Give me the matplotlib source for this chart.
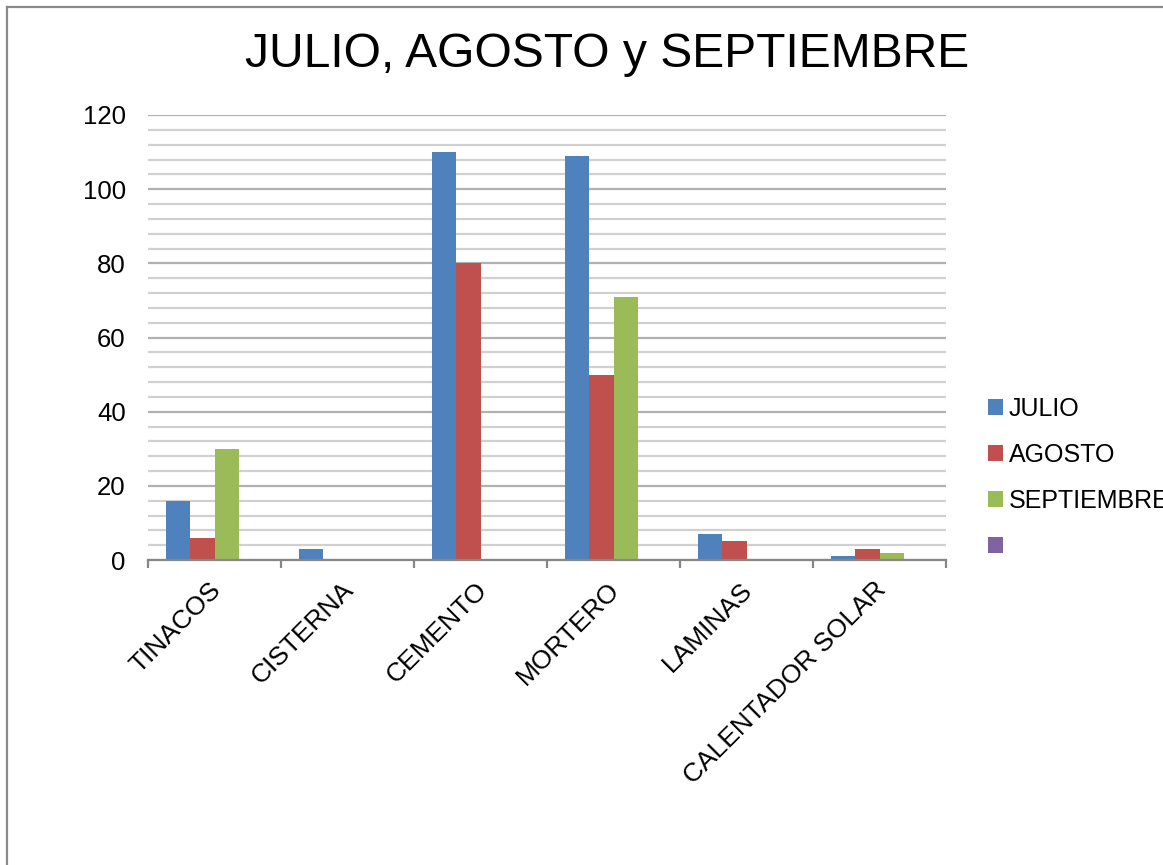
import numpy as np
import matplotlib.pyplot as plt
import matplotlib.transforms as mtransforms
from matplotlib.lines import Line2D
from matplotlib.patches import Patch

plt.rcParams['font.family'] = ['Liberation Sans', 'DejaVu Sans']

categories = ['TINACOS', 'CISTERNA', 'CEMENTO', 'MORTERO', 'LAMINAS', 'CALENTADOR SOLAR']
series_names = ['JULIO', 'AGOSTO', 'SEPTIEMBRE', '']
julio = [16, 3, 110, 109, 7, 1]
agosto = [6, 0, 80, 50, 5, 3]
septiembre = [30, 0, 0, 71, 0, 2]
cuarta = [0, 0, 0, 0, 0, 0]
colors = ['#4F81BD', '#C0504D', '#9BBB59', '#8064A2']


def draw():
    fig = plt.figure(figsize=(11.63, 8.65), dpi=100)
    ax = fig.add_axes([148 / 1163, 1 - 560 / 865, 798 / 1163, 445 / 865])

    x = np.arange(len(categories))
    w = 1 / 5.5  # 4 series, gap width 150%
    all_series = [julio, agosto, septiembre, cuarta]
    for i, (vals, c) in enumerate(zip(all_series, colors)):
        ax.bar(x + (i - 1.5) * w, vals, width=w, color=c, zorder=3)

    ax.set_xlim(-0.5, len(categories) - 0.5)
    ax.set_ylim(0, 120)
    ax.set_yticks(np.arange(0, 121, 20))
    ax.set_yticks(np.arange(0, 121, 4), minor=True)
    ax.yaxis.grid(True, which='minor', color='#d0d0d0', linewidth=1.6, zorder=0)
    ax.yaxis.grid(True, which='major', color='#b0b0b0', linewidth=1.6, zorder=0)
    ax.tick_params(axis='y', which='both', length=0, pad=16, labelsize=18.5)

    ax.set_xticks(x)
    ax.set_xticklabels(categories, rotation=45, ha='right', rotation_mode='anchor', fontsize=19)
    ax.set_xticks(np.arange(-0.5, len(categories)), minor=True)
    ax.tick_params(axis='x', which='major', length=0, pad=14)
    ax.tick_params(axis='x', which='minor', length=6, width=1.6, color='#868686', direction='out')
    shift = mtransforms.ScaledTranslation(-6 / 100, 2 / 100, fig.dpi_scale_trans)
    for lbl in ax.get_xticklabels():
        lbl.set_transform(lbl.get_transform() + shift)

    for s in ['left', 'right', 'top']:
        ax.spines[s].set_visible(False)
    ax.spines['bottom'].set_color('#868686')
    ax.spines['bottom'].set_linewidth(1.6)
    ax.spines['bottom'].set_zorder(4)

    fig.text(0.522, 0.937, 'JULIO, AGOSTO y SEPTIEMBRE', fontsize=34.6, ha='center', va='center')

    handles = [Patch(facecolor=c) for c in colors]
    fig.legend(handles, series_names, loc='center left', bbox_to_anchor=(988 / 1163, 1 - 478 / 865),
               frameon=False, fontsize=18, handlelength=0.6, handleheight=0.6,
               handletextpad=0.22, labelspacing=0.88, borderpad=0, borderaxespad=0)

    # outer chart border (cut off on the right and bottom)
    fig.add_artist(Line2D([7 / 1163, 1.0], [1 - 7 / 865, 1 - 7 / 865], color='#8a8a8a', linewidth=1.6))
    fig.add_artist(Line2D([7 / 1163, 7 / 1163], [0.0, 1 - 7 / 865], color='#8a8a8a', linewidth=1.6))

    fig.savefig('out.png', dpi=100)


if __name__ == "__main__":
    draw()
